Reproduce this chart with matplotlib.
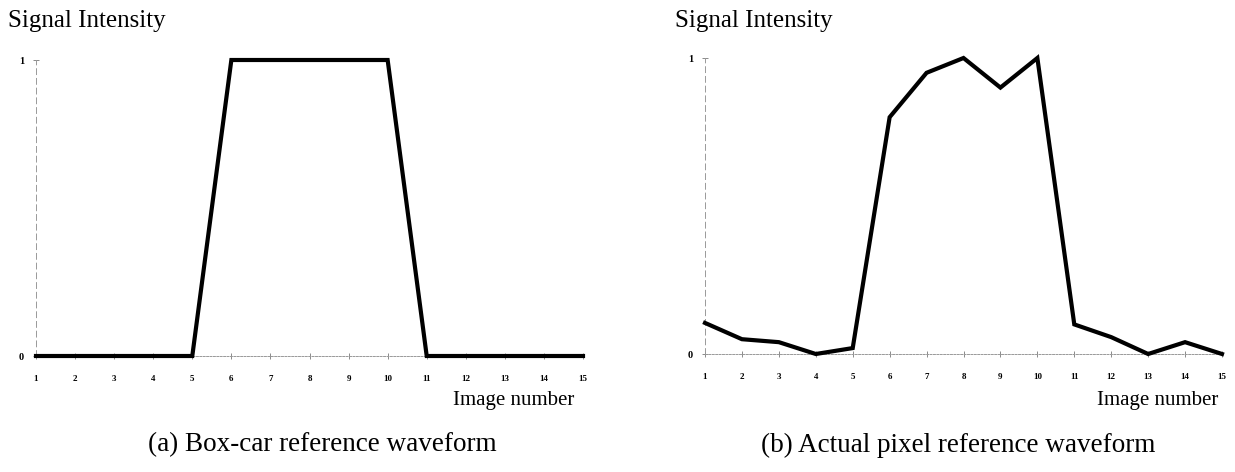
import matplotlib.pyplot as plt
import numpy as np

plt.rcParams['font.family'] = ['Liberation Serif', 'DejaVu Serif']

image_number = list(range(1, 16))
boxcar = [0, 0, 0, 0, 0, 1, 1, 1, 1, 1, 0, 0, 0, 0, 0]
actual = [0.105, 0.05, 0.04, 0.0, 0.02, 0.80, 0.95, 1.0, 0.90, 1.0,
          0.10, 0.057, 0.0, 0.04, 0.0]
captions = ["(a) Box-car reference waveform",
            "(b) Actual pixel reference waveform"]

W, H = 1235, 472


def style_axes(ax):
    for side in ('top', 'right'):
        ax.spines[side].set_visible(False)
    ax.spines['left'].set_linestyle((0, (6, 4)))
    ax.spines['left'].set_color('#999999')
    ax.spines['left'].set_linewidth(0.7)
    ax.spines['bottom'].set_linestyle((0, (2, 1.5)))
    ax.spines['bottom'].set_color('#999999')
    ax.spines['bottom'].set_linewidth(0.7)
    ax.set_xlim(1, 15)
    ax.set_ylim(0, 1)
    ax.set_xticks(image_number)
    ax.set_xticklabels([str(i) for i in image_number], fontsize=6.5,
                       fontweight='bold')
    ax.set_yticks([0, 1])
    ax.set_yticklabels(['0', '1'], fontsize=7.5, fontweight='bold')
    ax.tick_params(axis='x', direction='inout', length=5, width=0.6,
                   color='#777777', pad=11)
    ax.tick_params(axis='y', direction='inout', length=5, width=0.6,
                   color='#777777', pad=6)


fig = plt.figure(figsize=(W / 100, H / 100), dpi=100)

# pixel boxes: left, right, top(value 1), bottom(value 0)
boxes = [(36, 583, 60, 356), (705, 1222, 58, 354)]
title_x = [8, 675]
label_right = [574, 1218]
label_y = [400, 400]
caption_x = [322, 958]

for i, values in enumerate([boxcar, actual]):
    x0, x1, yt, yb = boxes[i]
    ax = fig.add_axes([x0 / W, 1 - yb / H, (x1 - x0) / W, (yb - yt) / H])
    style_axes(ax)
    ax.plot(image_number, values, color='black', lw=3, clip_on=False,
            solid_joinstyle='miter', zorder=5)
    fig.text(title_x[i] / W, 1 - 27 / H, "Signal Intensity",
             fontsize=18, ha='left', va='baseline')
    fig.text(label_right[i] / W, 1 - label_y[i] / H, "Image number",
             fontsize=15, ha='right', va='center')
    fig.text(caption_x[i] / W, 1 - 445 / H, captions[i],
             fontsize=19.5, ha='center', va='center')

fig.savefig('out.png', dpi=100, facecolor='white')
